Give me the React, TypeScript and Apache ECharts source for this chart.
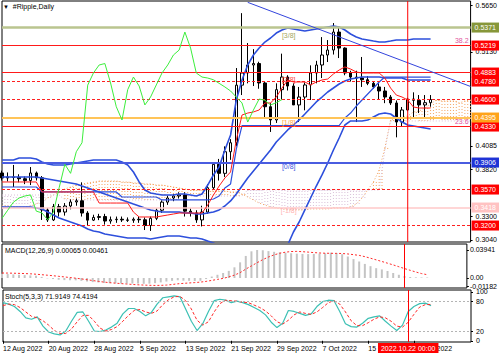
import React, { useEffect, useRef } from 'react';
import * as echarts from 'echarts';

const FONT = 'Liberation Sans, Arial, sans-serif';
const MONTHS = ['Jan', 'Feb', 'Mar', 'Apr', 'May', 'Jun', 'Jul', 'Aug', 'Sep', 'Oct', 'Nov', 'Dec'];
const FIRST_DAY = Date.UTC(2022, 7, 12);
const SLOT_COUNT = 83; // 12 Aug 2022 .. 2 Nov 2022 (cloud runs into the future)
const dates: string[] = Array.from({ length: SLOT_COUNT }, (_, i) => {
  const d = new Date(FIRST_DAY + i * 86400000);
  return `${d.getUTCDate()} ${MONTHS[d.getUTCMonth()]} ${d.getUTCFullYear()}`;
});

// ---- candles (12 Aug .. 26 Oct 2022) ----
const open = [0.3784,0.3728,0.3740,0.3735,0.3720,0.3700,0.3784,0.3730,0.3373,0.3262,0.3410,0.3350,0.3417,0.3462,0.3475,0.3339,0.3260,0.3290,0.3300,0.3250,0.3265,0.3270,0.3262,0.3258,0.3270,0.3264,0.3200,0.3280,0.3370,0.3460,0.3506,0.3528,0.3540,0.3360,0.3340,0.3262,0.3350,0.3620,0.3880,0.3780,0.4020,0.4120,0.4760,0.4895,0.4984,0.5000,0.4784,0.4520,0.4373,0.4710,0.4850,0.4750,0.4540,0.4628,0.4762,0.4895,0.4984,0.5095,0.5150,0.5350,0.5172,0.4895,0.4850,0.4839,0.4820,0.4780,0.4740,0.4695,0.4628,0.4562,0.4350,0.4484,0.4606,0.4592,0.4540,0.4565];
const high = [0.3810,0.3790,0.3873,0.3770,0.3745,0.3850,0.3800,0.3750,0.3395,0.3440,0.3440,0.3450,0.3490,0.3500,0.3680,0.3360,0.3320,0.3330,0.3330,0.3300,0.3300,0.3300,0.3290,0.3290,0.3300,0.3290,0.3300,0.3390,0.3480,0.3530,0.3550,0.3570,0.3570,0.3390,0.3370,0.3420,0.3660,0.3900,0.3940,0.4080,0.4160,0.4950,0.5560,0.5228,0.5160,0.5020,0.4800,0.4560,0.4780,0.5110,0.4870,0.4780,0.4740,0.4790,0.4980,0.5030,0.5294,0.5261,0.5450,0.5395,0.5180,0.4920,0.4920,0.5073,0.4860,0.4800,0.4780,0.4740,0.4650,0.4590,0.4517,0.4620,0.4680,0.4650,0.4650,0.4650];
const low = [0.3700,0.3690,0.3628,0.3680,0.3660,0.3650,0.3700,0.3262,0.3240,0.3250,0.3300,0.3310,0.3380,0.3420,0.3300,0.3200,0.3250,0.3260,0.3210,0.3220,0.3230,0.3240,0.3240,0.3230,0.3230,0.3150,0.3140,0.3260,0.3340,0.3430,0.3470,0.3500,0.3300,0.3300,0.3230,0.3190,0.3330,0.3600,0.3700,0.3740,0.3930,0.4080,0.4650,0.4780,0.4750,0.4720,0.4400,0.4240,0.4340,0.4600,0.4700,0.4560,0.4350,0.4480,0.4595,0.4780,0.4839,0.5017,0.5100,0.5061,0.4870,0.4800,0.4350,0.4740,0.4760,0.4720,0.4600,0.4560,0.4540,0.4180,0.4295,0.4470,0.4400,0.4450,0.4400,0.4520];
const close = [0.3728,0.3740,0.3735,0.3720,0.3700,0.3784,0.3730,0.3373,0.3262,0.3410,0.3350,0.3417,0.3462,0.3475,0.3339,0.3260,0.3290,0.3300,0.3250,0.3265,0.3270,0.3262,0.3258,0.3270,0.3264,0.3200,0.3280,0.3370,0.3460,0.3506,0.3528,0.3540,0.3360,0.3340,0.3262,0.3350,0.3620,0.3880,0.3780,0.4020,0.4120,0.4760,0.4895,0.4984,0.5000,0.4784,0.4520,0.4373,0.4710,0.4850,0.4750,0.4540,0.4628,0.4762,0.4895,0.4984,0.5095,0.5150,0.5350,0.5172,0.4895,0.4850,0.4839,0.4820,0.4780,0.4740,0.4695,0.4628,0.4562,0.4350,0.4484,0.4606,0.4592,0.4540,0.4565,0.4600];

// ---- Bollinger bands ----
const bbUpper = [0.3928,0.3928,0.3928,0.3950,0.3950,0.3950,0.3939,0.3906,0.3884,0.3873,0.3873,0.3873,0.3884,0.3895,0.3906,0.3917,0.3928,0.3928,0.3928,0.3928,0.3928,0.3906,0.3873,0.3795,0.3684,0.3595,0.3562,0.3550,0.3539,0.3539,0.3539,0.3550,0.3550,0.3539,0.3528,0.3550,0.3650,0.3762,0.3850,0.4039,0.4206,0.4595,0.4817,0.4984,0.5095,0.5173,0.5239,0.5284,0.5339,0.5373,0.5395,0.5384,0.5373,0.5362,0.5373,0.5384,0.5395,0.5406,0.5417,0.5406,0.5373,0.5328,0.5295,0.5273,0.5262,0.5250,0.5239,0.5239,0.5250,0.5262,0.5262,0.5262,0.5273,0.5273,0.5273,0.5273];
const bbMiddle = [0.3740,0.3740,0.3740,0.3740,0.3740,0.3740,0.3740,0.3728,0.3717,0.3706,0.3695,0.3684,0.3673,0.3662,0.3639,0.3617,0.3595,0.3573,0.3550,0.3528,0.3506,0.3484,0.3462,0.3439,0.3417,0.3395,0.3373,0.3362,0.3350,0.3350,0.3350,0.3350,0.3339,0.3339,0.3328,0.3328,0.3339,0.3350,0.3373,0.3417,0.3473,0.3550,0.3639,0.3728,0.3806,0.3884,0.3962,0.4039,0.4128,0.4195,0.4262,0.4317,0.4373,0.4439,0.4506,0.4573,0.4628,0.4684,0.4728,0.4773,0.4806,0.4828,0.4839,0.4850,0.4850,0.4850,0.4850,0.4839,0.4839,0.4839,0.4839,0.4817,0.4817,0.4817,0.4817,0.4817];
const bbLower = [0.3406,0.3406,0.3406,0.3406,0.3406,0.3406,0.3395,0.3384,0.3350,0.3317,0.3284,0.3262,0.3239,0.3217,0.3195,0.3162,0.3139,0.3128,0.3106,0.3095,0.3084,0.3073,0.3062,0.3062,0.3062,0.3062,0.3051,0.3062,0.3073,0.3084,0.3084,0.3084,0.3073,0.3062,0.3062,0.3051,0.3028,0.3006,0.2973,0.2928,0.2873,0.2706,0.2484,0.2317,0.2206,0.2173,0.2206,0.2317,0.2540,0.2795,0.2984,0.3128,0.3239,0.3373,0.3506,0.3639,0.3762,0.3895,0.4039,0.4173,0.4317,0.4362,0.4362,0.4362,0.4373,0.4406,0.4439,0.4450,0.4439,0.4395,0.4350,0.4317,0.4306,0.4295,0.4284,0.4273];

// ---- Ichimoku ----
const tenkan = [0.3684,0.3684,0.3684,0.3684,0.3684,0.3684,0.3684,0.3573,0.3573,0.3573,0.3573,0.3573,0.3573,0.3573,0.3573,0.3573,0.3573,0.3450,0.3450,0.3450,0.3450,0.3450,0.3450,0.3350,0.3295,0.3295,0.3295,0.3295,0.3306,0.3317,0.3328,0.3339,0.3339,0.3339,0.3339,0.3339,0.3428,0.3539,0.3639,0.3728,0.3795,0.4150,0.4428,0.4450,0.4462,0.4484,0.4562,0.4562,0.4628,0.4728,0.4817,0.4795,0.4795,0.4795,0.4762,0.4795,0.4817,0.4828,0.4884,0.4928,0.4962,0.4939,0.4906,0.4895,0.4895,0.4895,0.4895,0.4839,0.4728,0.4650,0.4628,0.4595,0.4517,0.4506,0.4506,0.4506];
const kijun = [0.3628,0.3628,0.3628,0.3628,0.3628,0.3628,0.3628,0.3573,0.3573,0.3573,0.3573,0.3573,0.3573,0.3573,0.3573,0.3573,0.3573,0.3573,0.3573,0.3573,0.3573,0.3517,0.3517,0.3517,0.3517,0.3517,0.3517,0.3517,0.3484,0.3484,0.3484,0.3484,0.3484,0.3484,0.3484,0.3484,0.3484,0.3495,0.3528,0.3617,0.3662,0.4050,0.4310,0.4310,0.4310,0.4310,0.4310,0.4310,0.4310,0.4310,0.4310,0.4310,0.4310,0.4310,0.4310,0.4310,0.4310,0.4310,0.4310,0.4310,0.4395,0.4450,0.4528,0.4595,0.4662,0.4728,0.4795,0.4850,0.4850,0.4850,0.4850,0.4850,0.4850,0.4850,0.4850,0.4850];
const spanA = [0.3417,0.3417,0.3406,0.3406,0.3406,0.3417,0.3439,0.3473,0.3506,0.3539,0.3573,0.3606,0.3628,0.3650,0.3662,0.3673,0.3684,0.3695,0.3695,0.3695,0.3695,0.3684,0.3684,0.3673,0.3673,0.3662,0.3662,0.3650,0.3650,0.3639,0.3628,0.3617,0.3606,0.3595,0.3595,0.3595,0.3584,0.3584,0.3584,0.3584,0.3573,0.3573,0.3550,0.3517,0.3484,0.3450,0.3428,0.3406,0.3395,0.3384,0.3373,0.3373,0.3373,0.3373,0.3384,0.3384,0.3384,0.3384,0.3395,0.3395,0.3395,0.3406,0.3439,0.3506,0.3595,0.3684,0.3817,0.4062,0.4373,0.4395,0.4406,0.4417,0.4462,0.4473,0.4506,0.4550,0.4595,0.4584,0.4584,0.4584,0.4562,0.4584,0.4595];
const spanB = [0.3539,0.3539,0.3539,0.3539,0.3539,0.3539,0.3539,0.3539,0.3539,0.3539,0.3539,0.3484,0.3484,0.3484,0.3484,0.3484,0.3484,0.3484,0.3484,0.3484,0.3484,0.3484,0.3484,0.3484,0.3484,0.3484,0.3484,0.3484,0.3484,0.3484,0.3484,0.3528,0.3528,0.3528,0.3528,0.3528,0.3528,0.3528,0.3528,0.3528,0.3528,0.3528,0.3528,0.3595,0.3595,0.3595,0.3595,0.3595,0.3595,0.3595,0.3595,0.3595,0.3595,0.3595,0.3595,0.3595,0.3595,0.3595,0.3595,0.3595,0.3595,0.3595,0.3595,0.3595,0.3595,0.3595,0.3595,0.4039,0.4362,0.4362,0.4362,0.4362,0.4362,0.4362,0.4362,0.4362,0.4362,0.4362,0.4362,0.4362,0.4362,0.4362,0.4362];
const CHIKOU_SHIFT = 26;

// ---- MACD(12,26,9) ----
const macd = [0.0060,0.0055,0.0050,0.0045,0.0040,0.0036,0.0032,0.0015,-0.0005,-0.0015,-0.0025,-0.0030,-0.0032,-0.0033,-0.0040,-0.0050,-0.0058,-0.0063,-0.0070,-0.0073,-0.0075,-0.0077,-0.0078,-0.0078,-0.0078,-0.0082,-0.0080,-0.0073,-0.0062,-0.0050,-0.0040,-0.0032,-0.0038,-0.0040,-0.0042,-0.0040,-0.0015,0.0020,0.0045,0.0070,0.0100,0.0150,0.0220,0.0310,0.0375,0.0394,0.0390,0.0378,0.0368,0.0362,0.0355,0.0348,0.0342,0.0338,0.0336,0.0338,0.0342,0.0347,0.0356,0.0352,0.0335,0.0302,0.0266,0.0232,0.0198,0.0166,0.0138,0.0120,0.0098,0.0070,0.0045,0.0028,0.0014,0.0009,0.0007,0.00065];
const macdSignal = [0.0070,0.0069,0.0067,0.0065,0.0062,0.0059,0.0053,0.0046,0.0039,0.0032,0.0023,0.0015,0.0006,-0.0003,-0.0013,-0.0024,-0.0036,-0.0048,-0.0058,-0.0066,-0.0073,-0.0079,-0.0085,-0.0091,-0.0096,-0.0100,-0.0103,-0.0105,-0.0104,-0.0100,-0.0092,-0.0082,-0.0076,-0.0070,-0.0065,-0.0058,-0.0048,-0.0034,-0.0020,-0.0006,0.0015,0.0040,0.0075,0.0125,0.0170,0.0215,0.0258,0.0295,0.0325,0.0348,0.0363,0.0372,0.0374,0.0370,0.0364,0.0357,0.0352,0.0348,0.0347,0.0346,0.0344,0.0338,0.0328,0.0318,0.0300,0.0278,0.0255,0.0232,0.0208,0.0184,0.0158,0.0132,0.0108,0.0084,0.0062,0.00461];

// ---- Stochastic(5,3,3) ----
const stochK = [78,75,70,60,47,44,49,30,18,14,12,20,40,58,59,40,20,19,22,28,36,55,66,66,60,51,58,75,88,90,92,90,65,40,21,35,60,82,85,83,78,81,78,74,68,62,53,38,27,36,62,60,56,52,55,70,80,83,82,60,35,29,28,36,46,49,51,40,30,21,32,60,70,76,77,71.9149];
const stochD = [72,75,74,68,59,50,47,41,32,21,15,15,24,39,52,52,40,26,20,23,29,40,52,62,64,59,56,61,74,84,90,91,82,65,42,32,39,59,76,83,82,81,79,78,73,68,61,51,39,34,42,53,59,56,54,59,68,78,82,75,59,41,31,31,37,44,49,47,40,30,28,38,54,69,74,74.4194];

// ---- axis tick labels ----
const priceTicks = [0.3040, 0.3300, 0.3820, 0.4085, 0.5130, 0.5650];
const macdTicks = [-0.01182, 0, 0.03941];
const macdTickLabels = ['-0.01182', '0.00', '0.03941'];
const stochTicks = [0, 20, 80, 100];

// ---- horizontal levels (Murrey math / support-resistance) ----
const levelPrices = [0.5371, 0.5219, 0.4883, 0.4780, 0.4600, 0.4330, 0.4395, 0.3906, 0.3570, 0.3418, 0.3200];
const levelStyles = [
  { color: '#bac58f', width: 2.5, type: 'solid', tag: '#87973a', text: '#ffffff' },
  { color: '#ff1a1a', width: 1, type: 'solid', tag: '#ff0000', text: '#ffffff' },
  { color: '#ff1a1a', width: 1, type: 'solid', tag: '#ff0000', text: '#ffffff' },
  { color: '#ff2020', width: 1, type: [3, 2], tag: '#ff0000', text: '#ffffff' },
  { color: '#ff2020', width: 1, type: [3, 2], tag: '#ff0000', text: '#ffffff' },
  { color: '#ff1a1a', width: 1, type: 'solid', tag: '#ff0000', text: '#ffffff' },
  { color: '#ffc458', width: 2, type: 'solid', tag: '#ffa31a', text: '#ffffff' },
  { color: '#4a5ce0', width: 2, type: 'solid', tag: '#1f33d6', text: '#ffffff' },
  { color: '#ff2020', width: 1, type: [3, 2], tag: '#ff0000', text: '#ffffff' },
  { color: '#ffc8c8', width: 1.5, type: 'solid', tag: '#ffc2c2', text: '#ffffff' },
  { color: '#ff2020', width: 1, type: [3, 2], tag: '#ff0000', text: '#ffffff' },
];
const mmLabels = ['[3/8]', '[2/8]', '[1/8]', '[0/8]', '[-1/8]'];
const mmPrices = [0.5371, 0.4883, 0.4395, 0.3906, 0.3418];
const mmColors = ['#a4a660', '#ff4a4a', '#ffa53a', '#4256e0', '#ffb4b4'];
const mmAnchorDate = '1 Oct 2022';
const fibLabels = ['38.2', '23.6'];
const fibPrices = [0.5219, 0.4330];
const trendFrom = { date: '24 Sep 2022', price: 0.5680 };
const trendTo = { date: '2 Nov 2022', price: 0.4745 };
const cursorDate = '22 Oct 2022';
const cursorLabel = '2022.10.22 00:00';

const PRICE_MIN = 0.3017;
const PRICE_MAX = 0.5695;

const txt = (o: any = {}) => ({ fontFamily: FONT, fontSize: 7, color: '#000', ...o });

function buildOption() {
  const nCandles = close.length;
  const candleData = close.map((c, i) => [open[i], c, low[i], high[i]]);
  const chikou = close.slice(CHIKOU_SHIFT);
  const cloudData = spanA.map((a, i) => [i, a, spanB[i]]);
  const cursorIndex = dates.indexOf(cursorDate);

  const levelItems: any[] = levelPrices.map((p, i) => ({
    yAxis: p,
    lineStyle: { color: levelStyles[i].color, width: levelStyles[i].width, type: levelStyles[i].type },
    label: {
      show: true, position: 'end', distance: 1, formatter: p.toFixed(4),
      backgroundColor: levelStyles[i].tag, padding: [2, 3, 1, 3], ...txt({ color: levelStyles[i].text }),
    },
  }));
  const fibItems = fibPrices.map((p, i) => ({
    yAxis: p,
    lineStyle: { color: 'rgba(255,255,255,0)', width: 1, type: 'solid' },
    label: { show: true, position: 'insideEndTop', distance: 2, formatter: fibLabels[i], ...txt({ color: '#e2529e' }) },
  }));
  const mmItems = mmPrices.map((p, i) => ({
    coord: [mmAnchorDate, p],
    label: { show: true, position: 'inside', offset: [1, 5], formatter: mmLabels[i], ...txt({ color: mmColors[i] }) },
  }));

  const cursorLine = (label: any = { show: false }) => ({
    xAxis: cursorDate, lineStyle: { color: '#ff0000', width: 1, type: 'solid' }, label,
  });
  const axisBase = (k: number) => ({
    type: 'category', gridIndex: k, data: dates, boundaryGap: false,
    axisLine: { show: false }, splitLine: { show: false },
    axisTick: k === 2 ? { show: true, length: 3, interval: (i: number) => i % 8 === 0 && i < nCandles, lineStyle: { color: '#000' } } : { show: false },
    axisLabel: k === 2 ? { show: true, interval: (i: number) => i % 8 === 0 && i < nCandles, align: 'left', margin: 3, ...txt() } : { show: false },
  });
  const lineS = (name: string, data: any[], color: string, width: number, z: number, k = 0, type: any = 'solid') => ({
    name, type: 'line', xAxisIndex: k, yAxisIndex: k, data, showSymbol: false, symbol: 'none', z, silent: true,
    lineStyle: { color, width, type }, clip: true,
  });
  const nulls = () => dates.map(() => null);

  return {
    animation: false,
    backgroundColor: '#ffffff',
    textStyle: { fontFamily: FONT },
    title: [
      { text: '{t|▼}  #Ripple,Daily', left: 3, top: 3, padding: 0, textStyle: { ...txt(), fontWeight: 'normal', rich: { t: { fontSize: 6, color: '#000', fontFamily: FONT } } } },
      { text: 'MACD(12,26,9) 0.00065 0.00461', left: 5, top: 247, padding: 0, textStyle: { ...txt(), fontWeight: 'normal' } },
      { text: 'Stoch(5,3,3) 71.9149 74.4194', left: 5, top: 293, padding: 0, textStyle: { ...txt(), fontWeight: 'normal' } },
    ],
    grid: [
      { left: 2, top: 1, width: 469, height: 241, show: true, borderColor: '#000', borderWidth: 1, backgroundColor: 'transparent' },
      { left: 2, top: 244, width: 469, height: 44, show: true, borderColor: '#000', borderWidth: 1, backgroundColor: 'transparent' },
      { left: 2, top: 290, width: 469, height: 52, show: true, borderColor: '#000', borderWidth: 1, backgroundColor: 'transparent' },
    ],
    xAxis: [axisBase(0), axisBase(1), axisBase(2)],
    yAxis: [
      {
        type: 'value', gridIndex: 0, position: 'right', min: PRICE_MIN, max: PRICE_MAX,
        axisLine: { show: false }, splitLine: { show: false },
        axisTick: { show: true, length: 2, customValues: priceTicks, lineStyle: { color: '#000' } },
        axisLabel: { customValues: priceTicks, margin: 5, formatter: (v: number) => v.toFixed(4), ...txt() },
      },
      {
        type: 'value', gridIndex: 1, position: 'right', min: -0.0141, max: 0.0478,
        axisLine: { show: false }, splitLine: { show: false },
        axisTick: { show: true, length: 2, customValues: macdTicks, lineStyle: { color: '#000' } },
        axisLabel: {
          customValues: macdTicks, margin: 3,
          formatter: (v: number) => {
            let best = 0;
            macdTicks.forEach((t, i) => { if (Math.abs(t - v) < Math.abs(macdTicks[best] - v)) best = i; });
            return macdTickLabels[best];
          },
          ...txt(),
        },
      },
      {
        type: 'value', gridIndex: 2, position: 'right', min: -2.5, max: 103.9,
        axisLine: { show: false }, splitLine: { show: false },
        axisTick: { show: true, length: 2, customValues: stochTicks, lineStyle: { color: '#000' } },
        axisLabel: { customValues: stochTicks, margin: 5, formatter: (v: number) => String(v), ...txt() },
      },
    ],
    series: [
      {
        name: 'levels', type: 'line', xAxisIndex: 0, yAxisIndex: 0, data: nulls(), z: 1, silent: true, symbol: 'none',
        markLine: { silent: true, symbol: ['none', 'none'], animation: false, label: { show: false }, data: [...levelItems, ...fibItems] },
        markPoint: { silent: true, symbol: 'circle', symbolSize: 1, itemStyle: { color: 'rgba(0,0,0,0)' }, animation: false, data: mmItems },
      },
      {
        name: 'cloud', type: 'custom', xAxisIndex: 0, yAxisIndex: 0, z: 2, silent: true, clip: true,
        data: cloudData, encode: { x: 0, y: [1, 2] },
        renderItem: (params: any, api: any) => {
          const i = api.value(0); const a = api.value(1); const b = api.value(2);
          const pa = api.coord([i, a]); const pb = api.coord([i, b]);
          const half = api.size([1, 0])[0] / 2;
          const stroke = a >= b ? '#f4a460' : '#d8bfd8';
          const mk = (dx: number) => ({ type: 'line', shape: { x1: pa[0] + dx, y1: pa[1], x2: pa[0] + dx, y2: pb[1] }, style: { stroke, lineWidth: 1, lineDash: [1, 2] } });
          return { type: 'group', children: [mk(0), mk(half)] };
        },
      },
      lineS('Senkou A', spanA, '#f4a460', 1, 2, 0, [1, 2]),
      lineS('Senkou B', spanB, '#d8bfd8', 1, 2, 0, [1, 2]),
      {
        name: 'XRP', type: 'candlestick', xAxisIndex: 0, yAxisIndex: 0, data: candleData, z: 3, barWidth: 3, silent: true,
        itemStyle: { color: '#ffffff', color0: '#000000', borderColor: '#000000', borderColor0: '#000000', borderWidth: 1 },
      },
      lineS('BB upper', bbUpper, '#2d4fdc', 1.6, 4),
      lineS('BB middle', bbMiddle, '#2d4fdc', 1.6, 4),
      lineS('BB lower', bbLower, '#2d4fdc', 1.6, 4),
      lineS('Kijun', kijun, '#2d4fdc', 1.2, 4),
      lineS('Tenkan', tenkan, '#ff1a1a', 1, 5),
      lineS('Chikou', chikou, '#3cee3c', 1, 5),
      {
        name: 'trend', type: 'line', xAxisIndex: 0, yAxisIndex: 0, data: nulls(), z: 6, silent: true, symbol: 'none',
        markLine: {
          silent: true, symbol: ['none', 'none'], animation: false, label: { show: false },
          data: [
            [{ coord: [trendFrom.date, trendFrom.price], lineStyle: { color: '#3344dd', width: 1, type: 'solid' } }, { coord: [trendTo.date, trendTo.price] }],
          ],
        },
      },
      {
        name: 'cursor', type: 'custom', xAxisIndex: 0, yAxisIndex: 0, z: 7, silent: true, clip: false,
        data: [[cursorIndex, PRICE_MAX, PRICE_MIN]], encode: { x: 0, y: [1, 2] },
        renderItem: (params: any, api: any) => {
          const top = api.coord([api.value(0), api.value(1)]);
          const bot = api.coord([api.value(0), api.value(2)]);
          return { type: 'line', shape: { x1: top[0], y1: top[1], x2: bot[0], y2: bot[1] }, style: { stroke: '#ff0000', lineWidth: 1 } };
        },
      },
      // MACD panel
      {
        name: 'MACD', type: 'bar', xAxisIndex: 1, yAxisIndex: 1, data: macd, barWidth: 2, silent: true, z: 2,
        itemStyle: { color: '#c4c4c4' },
      },
      {
        ...lineS('Signal', macdSignal, '#ff2a2a', 1, 3, 1, [2, 2]),
        markLine: { silent: true, symbol: ['none', 'none'], animation: false, label: { show: false }, data: [cursorLine()] },
      },
      // Stochastic panel
      {
        ...lineS('%K', stochK, '#3cc0b4', 1.2, 3, 2),
        markLine: {
          silent: true, symbol: ['none', 'none'], animation: false, label: { show: false },
          data: [
            { yAxis: 80, lineStyle: { color: '#b4b4b4', width: 1, type: [2, 2] } },
            { yAxis: 20, lineStyle: { color: '#b4b4b4', width: 1, type: [2, 2] } },
          ],
        },
      },
      {
        ...lineS('%D', stochD, '#ff2a2a', 1, 4, 2, [3, 2]),
        markLine: {
          silent: true, symbol: ['none', 'none'], animation: false,
          data: [cursorLine({ show: true, position: 'start', distance: 1, formatter: cursorLabel, backgroundColor: '#ff0000', padding: [2, 3, 1, 3], ...txt({ color: '#ffffff' }) })],
        },
      },
    ],
  };
}

export default function App() {
  const ref = useRef<HTMLDivElement | null>(null);
  useEffect(() => {
    if (!ref.current) return;
    const chart = echarts.init(ref.current, undefined, { renderer: 'svg' });
    chart.setOption(buildOption() as any);
    return () => chart.dispose();
  }, []);
  return (
    <div
      ref={ref}
      style={{ position: 'fixed', left: 0, top: 0, width: 500, height: 357, background: '#ffffff' }}
    />
  );
}
